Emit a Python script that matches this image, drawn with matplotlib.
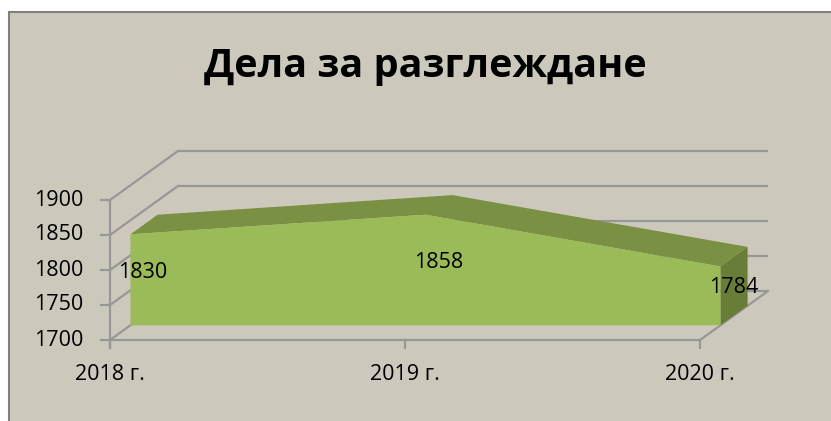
import matplotlib
matplotlib.use("Agg")
import matplotlib.pyplot as plt
from matplotlib.patches import Polygon, Rectangle

# ---- data ----
title = "Дела за разглеждане"
categories = ["2018 г.", "2019 г.", "2020 г."]
values = [1830, 1858, 1784]
yticks = [1700, 1750, 1800, 1850, 1900]

# ---- style / geometry ----
W, H, DPI = 831, 421, 100
BG = "#CCC9BC"
GRID = "#979797"
FRONT = "#9BBB59"
TOP = "#7A9143"
SIDE = "#687D37"
FONT = ["Open Sans", "DejaVu Sans"]

PX_PER_CAT = 295.0
PX_PER_VAL = 0.7
X0_PX, Y0_PX = 110.0, 340.0   # pixel position of (cat 0, value 1700)
DEPTH_DX = 68.0 / PX_PER_CAT  # full depth shift in category units
DEPTH_DY = 49.0 / PX_PER_VAL  # full depth shift in value units
D1, D2 = 0.30, 0.70           # slab depth range

fig = plt.figure(figsize=(W / DPI, H / DPI), dpi=DPI)
fig.patch.set_facecolor("white")

ax = fig.add_axes([0, 0, 1, 1])
ax.set_axis_off()
ymin = yticks[0]
ax.set_xlim(-X0_PX / PX_PER_CAT, (W - X0_PX) / PX_PER_CAT)
ax.set_ylim(ymin - (H - Y0_PX) / PX_PER_VAL, ymin + Y0_PX / PX_PER_VAL)
ax.add_patch(Rectangle((8.5 / W, -0.05), 1, 1.05 - 11.5 / H, transform=fig.transFigure,
                       facecolor=BG, edgecolor="#7F7F7F", linewidth=1.5, zorder=0,
                       clip_on=False))


def P(x, v, d):
    return (x + d * DEPTH_DX, v + d * DEPTH_DY)


n = len(categories)
xs = list(range(n))
lw = 1.6

# back wall gridlines and left wall diagonals
for v in yticks:
    a, b = P(0, v, 1), P(n - 1, v, 1)
    ax.plot([a[0], b[0]], [a[1], b[1]], color=GRID, lw=lw, solid_capstyle="butt", zorder=1)
    c = P(0, v, 0)
    ax.plot([c[0], a[0]], [c[1], a[1]], color=GRID, lw=lw, zorder=1)

# floor
f0, f1, f2 = P(0, ymin, 0), P(n - 1, ymin, 0), P(n - 1, ymin, 1)
ax.plot([f0[0], f1[0], f2[0]], [f0[1], f1[1], f2[1]], color=GRID, lw=lw, zorder=1)

# front value axis
ax.plot([0, 0], [yticks[0] - 11, yticks[-1]], color=GRID, lw=lw, zorder=1)
tick_len = 9 / PX_PER_CAT
for v in yticks:
    ax.plot([-tick_len, 0], [v, v], color=GRID, lw=lw, zorder=1)
    ax.text(-27 / PX_PER_CAT, v, str(v), ha="right", va="center",
            fontsize=15.5, family=FONT, color="black")

# category ticks and labels
for i, lab in enumerate(categories):
    ax.plot([i, i], [ymin, ymin - 11], color=GRID, lw=lw, zorder=1)
    ax.text(i, ymin - 50, lab, ha="center", va="center", fontsize=15.5,
            family=FONT, color="black")

# 3D area slab
top_front = [P(i, values[i], D1) for i in xs]
top_back = [P(i, values[i], D2) for i in xs]
ax.add_patch(Polygon(top_front + top_back[::-1], closed=True, facecolor=TOP,
                     edgecolor="none", zorder=3))
side = [P(n - 1, values[-1], D1), P(n - 1, values[-1], D2),
        P(n - 1, ymin, D2), P(n - 1, ymin, D1)]
ax.add_patch(Polygon(side, closed=True, facecolor=SIDE, edgecolor="none", zorder=3))
front = top_front + [P(n - 1, ymin, D1), P(0, ymin, D1)]
ax.add_patch(Polygon(front, closed=True, facecolor=FRONT, edgecolor="none", zorder=4))

# data labels
offsets = [(33, -23), (34, -33), (34, -6)]
for i, v in enumerate(values):
    ax.annotate(str(v), xy=(i, v), xytext=offsets[i], textcoords="offset pixels",
                ha="center", va="center", fontsize=15.5, family=FONT, color="black",
                zorder=6)

# title
ax.text(425 / W, 1 - 66 / H, title, transform=fig.transFigure, ha="center", va="center",
        fontsize=28.5, fontweight="bold", family=FONT, color="black")

fig.savefig("out.png", dpi=DPI, facecolor=fig.get_facecolor())
